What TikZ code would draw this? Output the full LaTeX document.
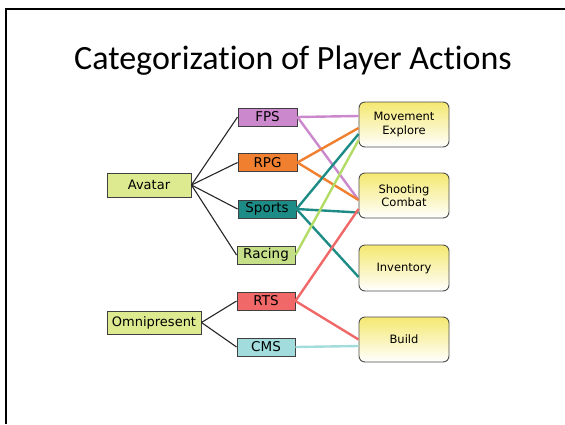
\documentclass[tikz,border=0pt]{standalone}
\usepackage{fontspec}
\setmainfont{DejaVu Sans}
\newfontfamily\titlefont[Ligatures=NoCommon]{Carlito}
\usepackage{xcolor}
\usetikzlibrary{arrows.meta,positioning,calc}

\definecolor{fpscol}{HTML}{CC88CC}
\definecolor{rpgcol}{HTML}{F08030}
\definecolor{sportscol}{HTML}{1E8C86}
\definecolor{racingcol}{HTML}{C6E08A}
\definecolor{racingline}{HTML}{B2DC66}
\definecolor{rtscol}{HTML}{F06868}
\definecolor{cmscol}{HTML}{A2DCDC}
\definecolor{groupcol}{HTML}{DEEA90}
\definecolor{catcol}{HTML}{F4E870}

\begin{document}
\begin{tikzpicture}[x=1pt, y=-1pt,
    group/.style={draw=black!75, line width=0.9pt, fill=groupcol, inner sep=0pt, minimum height=24pt, font=\fontsize{13}{15}\selectfont},
    game/.style={draw=black!75, line width=0.9pt, inner sep=0pt, minimum width=58pt, minimum height=18pt, font=\fontsize{13.5}{15}\selectfont},
    category/.style={draw=black!70, line width=0.9pt, rounded corners=6pt, top color=catcol, bottom color=white, minimum width=90pt, minimum height=45pt, inner sep=0pt, align=center, font=\fontsize{11.5}{13.5}\selectfont},
    branch/.style={line width=1.1pt, black!85},
    link/.style={line width=2.4pt}
]
\useasboundingbox (0,0) rectangle (565,424);

% Frame
\draw[line width=2pt] (6,424) -- (6,9) -- (565,9);

% Title
\node (title) at (293,61) {\titlefont\fontsize{34}{40}\selectfont Categorization of Player Actions};

% Groups
\node[group, minimum width=84pt] (avatar) at (149,185) {Avatar};
\node[group, minimum width=94pt, minimum height=23pt] (omni) at (154,322.5) {Omnipresent};

% Games
\node[game, fill=fpscol, minimum width=59pt] (fps) at (267.5,117) {FPS};
\node[game, fill=rpgcol, minimum width=59pt] (rpg) at (267.5,162.5) {RPG};
\node[game, fill=sportscol] (sports) at (267,209) {Sports};
\node[game, fill=racingcol] (racing) at (266,255) {Racing};
\node[game, fill=rtscol] (rts) at (266,301) {RTS};
\node[game, fill=cmscol] (cms) at (266,347) {CMS};

% Actions
\node[category] (move) at (404,124.5) {Movement\\Explore};
\node[category] (shoot) at (404,195.5) {Shooting\\Combat};
\node[category, minimum height=46pt] (inv) at (404,268) {Inventory};
\node[category] (build) at (404,339.5) {Build};

% Group to game
\draw[branch] (avatar.east) -- (fps.west);
\draw[branch] (avatar.east) -- (rpg.west);
\draw[branch] (avatar.east) -- (sports.west);
\draw[branch] (avatar.east) -- (racing.west);
\draw[branch] (omni.east) -- (rts.west);
\draw[branch] (omni.east) -- (cms.west);

% Game to action
\draw[link, fpscol] (fps.east) -- ([yshift=8.5pt]move.west);
\draw[link, fpscol] (fps.east) -- ([yshift=-4.5pt]shoot.west);
\draw[link, rpgcol] (rpg.east) -- ([yshift=-3.5pt]move.west);
\draw[link, rpgcol] (rpg.east) -- ([yshift=-4.5pt]shoot.west);
\draw[link, sportscol] (sports.east) -- ([yshift=-9.5pt]move.west);
\draw[link, sportscol] (sports.east) -- ([yshift=-17pt]shoot.west);
\draw[link, sportscol] (sports.east) -- ([yshift=-9pt]inv.west);
\draw[link, racingline] (racing.east) -- ([yshift=-15.5pt]move.west);
\draw[link, rtscol] (rts.east) -- ([yshift=-13.5pt]shoot.west);
\draw[link, rtscol] (rts.east) -- (build.west);
\draw[link, cmscol] (cms.east) -- ([yshift=-6.5pt]build.west);

\end{tikzpicture}
\end{document}
